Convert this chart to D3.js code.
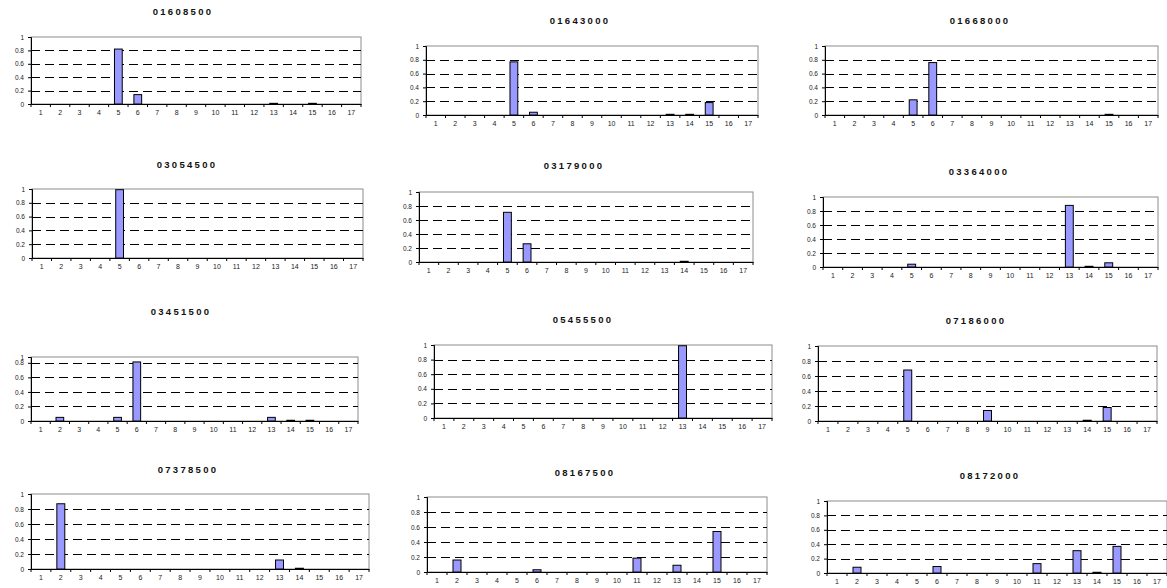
<!DOCTYPE html>
<html>
<head>
<meta charset="utf-8">
<script src="https://cdn.jsdelivr.net/npm/d3@7"></script>
<style>
  html, body { margin: 0; padding: 0; background: #fff; }
  svg { display: block; }
  .title { font-family: "Liberation Sans", Arial, sans-serif; font-weight: bold; font-size: 9.5px; letter-spacing: 2.3px; fill: #111; }
  .tick text { font-family: "Liberation Sans", Arial, sans-serif; fill: #222; }
</style>
</head>
<body>
<svg id="chart" width="1167" height="588"></svg>
<script>
// Categories along the x axis
const categories = ["1","2","3","4","5","6","7","8","9","10","11","12","13","14","15","16","17"];
// Y axis tick values
const yTicks = [0, 0.2, 0.4, 0.6, 0.8, 1];

// Station identifiers (one panel each)
const stations = ["01608500","01643000","01668000","03054500","03179000","03364000",
                  "03451500","05455500","07186000","07378500","08167500","08172000"];

// Share per category for each station, categories 1..17
const s01608500 = [0,0,0,0,0.82,0.14,0,0,0,0,0,0,0.01,0,0.01,0,0];
const s01643000 = [0,0,0,0,0.77,0.04,0,0,0,0,0,0,0.01,0.01,0.18,0,0];
const s01668000 = [0,0,0,0,0.22,0.76,0,0,0,0,0,0,0,0,0.01,0,0];
const s03054500 = [0,0,0,0,0.99,0,0,0,0,0,0,0,0,0,0,0,0];
const s03179000 = [0,0,0,0,0.71,0.26,0,0,0,0,0,0,0,0.01,0,0,0];
const s03364000 = [0,0,0,0,0.04,0,0,0,0,0,0,0,0.88,0.01,0.06,0,0];
const s03451500 = [0,0.05,0,0,0.05,0.83,0,0,0,0,0,0,0.05,0.01,0.01,0,0];
const s05455500 = [0,0,0,0,0,0,0,0,0,0,0,0,0.99,0,0,0,0];
const s07186000 = [0,0,0,0,0.68,0,0,0,0.14,0,0,0,0,0.01,0.18,0,0];
const s07378500 = [0,0.87,0,0,0,0,0,0,0,0,0,0,0.12,0.01,0,0,0];
const s08167500 = [0,0.16,0,0,0,0.03,0,0,0,0,0.185,0,0.09,0,0.54,0,0];
const s08172000 = [0,0.08,0,0,0,0.09,0,0,0,0,0.13,0,0.31,0.01,0.37,0,0];

const series = [s01608500, s01643000, s01668000, s03054500, s03179000, s03364000,
                s03451500, s05455500, s07186000, s07378500, s08167500, s08172000];

// Panel frames: plot-area edges and title position
const frames = [
  {l: 31,  r: 361,  t: 37,  b: 104, tx: 183, ty: 12},
  {l: 426, r: 758,  t: 46,  b: 115, tx: 580, ty: 21},
  {l: 825, r: 1158, t: 46,  b: 115, tx: 980, ty: 21},
  {l: 32,  r: 363,  t: 189, b: 258, tx: 187, ty: 165},
  {l: 419, r: 753,  t: 192, b: 262, tx: 574, ty: 166},
  {l: 823, r: 1158, t: 197, b: 267, tx: 979, ty: 172},
  {l: 31,  r: 358,  t: 357, b: 421, tx: 181, ty: 312, compressedTop: true},
  {l: 434, r: 772,  t: 345, b: 418, tx: 583, ty: 320},
  {l: 818, r: 1157, t: 346, b: 421, tx: 976, ty: 321},
  {l: 31,  r: 369,  t: 494, b: 569, tx: 188, ty: 470},
  {l: 427, r: 767,  t: 497, b: 572, tx: 585, ty: 473},
  {l: 827, r: 1167, t: 501, b: 573, tx: 990, ty: 476}
];

const svg = d3.select("#chart");

stations.forEach((name, i) => {
  const f = frames[i];
  const vals = series[i];
  const g = svg.append("g");

  const x = d3.scaleBand().domain(categories).range([f.l, f.r])
    .paddingInner(0.6).paddingOuter(0.3);
  const step = x.step();

  let y;
  if (f.compressedTop) {
    const unit = (f.b - f.t) / 4.4;
    y = d3.scaleLinear().domain([0, 0.8, 1]).range([f.b, f.b - 4 * unit, f.t]);
  } else {
    y = d3.scaleLinear().domain([0, 1]).range([f.b, f.t]);
  }

  // title
  g.append("text").attr("class", "title")
    .attr("x", f.tx).attr("y", f.ty).attr("dy", "0.35em")
    .attr("text-anchor", "middle").text(name);

  // plot-area border
  g.append("rect").attr("x", f.l).attr("y", f.t)
    .attr("width", f.r - f.l).attr("height", f.b - f.t)
    .attr("fill", "none").attr("stroke", "#8c8c8c").attr("stroke-width", 1);

  // dashed gridlines
  g.append("g").selectAll("line").data(yTicks.filter(v => v > 0 && v < 1)).join("line")
    .attr("x1", f.l).attr("x2", f.r)
    .attr("y1", d => Math.round(y(d)) + 0.5).attr("y2", d => Math.round(y(d)) + 0.5)
    .attr("stroke", "#000").attr("stroke-width", 1).attr("stroke-dasharray", "9,5");

  // bars
  g.append("g").selectAll("rect").data(categories.map((c, k) => ({c, v: vals[k]})).filter(d => d.v > 0))
    .join("rect")
    .attr("x", d => x(d.c)).attr("width", x.bandwidth())
    .attr("y", d => y(d.v)).attr("height", d => Math.max(1, f.b - y(d.v)))
    .attr("fill", "#9999ff").attr("stroke", "#000").attr("stroke-width", 1);

  // y axis
  const ya = g.append("g").attr("transform", `translate(${f.l},0)`)
    .call(d3.axisLeft(y).tickValues(yTicks).tickSize(3).tickFormat(d3.format("~g")));
  ya.select(".domain").attr("stroke", "#000");
  ya.selectAll(".tick line").attr("stroke", "#000");
  ya.selectAll(".tick text").attr("font-size", 6.5).attr("dx", "-1");

  // x axis: labels centred on categories, ticks on category boundaries
  const xa = g.append("g").attr("transform", `translate(0,${f.b})`)
    .call(d3.axisBottom(x).tickSize(0).tickPadding(6));
  xa.select(".domain").attr("stroke", "#000");
  xa.selectAll(".tick text").attr("font-size", 7);
  g.append("g").selectAll("line").data(d3.range(categories.length + 1)).join("line")
    .attr("x1", k => f.l + k * step).attr("x2", k => f.l + k * step)
    .attr("y1", f.b).attr("y2", f.b + 3)
    .attr("stroke", "#000").attr("stroke-width", 1);
});
</script>
</body>
</html>
